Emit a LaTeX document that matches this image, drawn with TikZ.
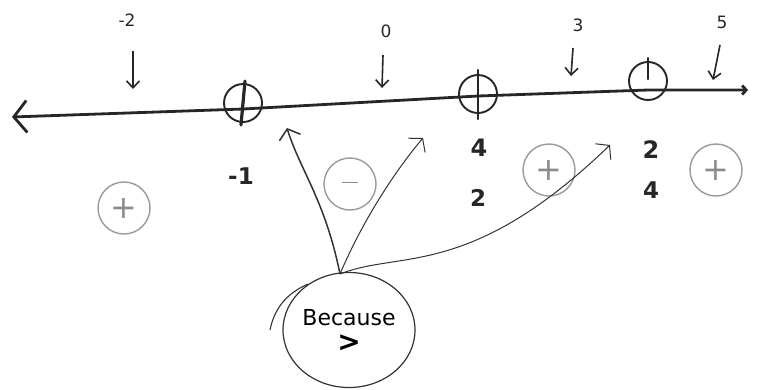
\documentclass[tikz,border=0pt]{standalone}
\usepackage{fontspec}
\setmainfont{DejaVu Sans}
\usetikzlibrary{arrows.meta,shapes.geometric}
\begin{document}
\begin{tikzpicture}[x=1pt,y=-1pt,
  ink/.style={draw=black!85,line width=2.8pt,line cap=round,line join=round},
  zero/.style={circle,draw=black!85,line width=1.9pt,minimum size=38pt,inner sep=0pt},
  sign/.style={circle,draw=black!40,line width=1.4pt,minimum size=52pt,inner sep=0pt,text=black!45,font=\fontsize{32}{32}\selectfont},
  lbl/.style={font=\bfseries\fontsize{23}{23}\selectfont,text=black!85,inner sep=1pt},
  toplbl/.style={font=\fontsize{17}{17}\selectfont,text=black!85,inner sep=1pt},
  marker/.style={draw=black!85,line width=1.6pt,-{Straight Barb[length=7pt,width=13pt]}},
  pointer/.style={draw=black!80,line width=1.5pt,-{Straight Barb[length=9pt,width=22pt]}}]
\useasboundingbox (0,0) rectangle (759,389);
% zero circles
\node[zero] (z1) at (243,103) {};
\node[zero] (z2) at (478,94) {};
\node[zero] (z3) at (648,81) {};
% axis
\coordinate (L) at (12,117);
\coordinate (R) at (748,90);
\draw[ink,{Straight Barb[length=13pt,width=32pt]}-{Straight Barb[length=4pt,width=9pt]}] (L) -- (243,109) -- (478,96) -- (648,90) -- (R);
% ticks in zero circles
\draw[ink,line width=3.2pt] ([xshift=2pt,yshift=2pt]z1.north) -- ([xshift=-2pt,yshift=-2pt]z1.south);
\draw[ink,line width=2.4pt] ([yshift=4pt]z2.north) -- ([yshift=-5pt]z2.south);
\draw[ink,line width=2.4pt] ([yshift=3pt]z3.north) -- ([yshift=2pt]z3.center);
% top test values
\node[toplbl] (tm2) at (127,20) {-2};
\node[toplbl] (t0) at (386,31) {0};
\node[toplbl] (t3) at (578,25) {3};
\node[toplbl] (t5) at (722,22) {5};
\draw[marker] (133,51) -- (133,89);
\draw[marker] (383,55) -- (382,88);
\draw[marker] (573,48) -- (571,76);
\draw[marker] (720,45) -- (713,80);
% bottom labels
\node[lbl] (m1) at (241,176) {-1};
\node[lbl,font=\bfseries\fontsize{24}{24}\selectfont] (n4) at (479,148) {4};
\node[lbl] (n2) at (478,198) {2};
\node[lbl,font=\bfseries\fontsize{24}{24}\selectfont] (p2) at (651,150) {2};
\node[lbl] (p4) at (651,190) {4};
% sign circles
\node[sign] (s1) at (124,208) {+};
\node[sign] (s2) at (350,184) {\raisebox{3pt}{\rule{16pt}{1.3pt}}};
\node[sign] (s3) at (549,170) {+};
\node[sign] (s4) at (716,170) {+};
% because bubble
\node[ellipse,draw=black!80,line width=1.2pt,minimum width=132pt,minimum height=115pt,inner sep=0pt,align=center,font=\fontsize{22}{26}\selectfont] (b) at (349,330) {Because\\[0pt]\textbf{\fontsize{28}{28}\selectfont >}};
\draw[black!80,line width=1.1pt] (270,330) .. controls (275,305) and (290,292) .. (308,284);
\coordinate (bt) at (340,274);
\draw[pointer] (bt) .. controls (325,200) and (300,170) .. (287,128);
\draw[pointer,line width=1pt] (bt) .. controls (365,215) and (400,165) .. (423,138);
\draw[pointer,line width=1pt] (bt) .. controls (400,250) and (470,280) .. (610,145);
\end{tikzpicture}
\end{document}
